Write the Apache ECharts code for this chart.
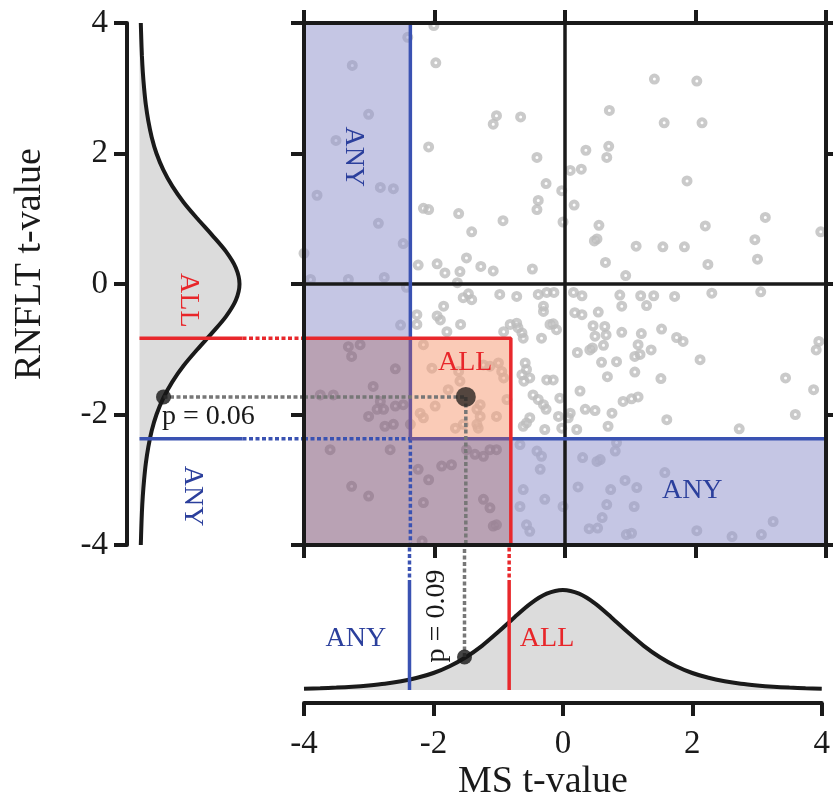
<!DOCTYPE html>
<html><head><meta charset="utf-8">
<script src="https://cdn.jsdelivr.net/npm/echarts@6/dist/echarts.min.js"></script>
<style>html,body{margin:0;padding:0;background:#fff}#c{width:833px;height:799px}</style>
</head><body><div id="c"></div>
<script>
// ---------------- data ----------------
const axisTicks = [-4, -2, 0, 2, 4];
const msT = [
-2.41,-3.26,-3.01,-3.51,-2.83,-2.63,-3.80,-2.86,-2.48,-4.00,-3.90,-3.32,-2.77,-2.43,-2.52,
-2.01,-1.98,-1.05,-1.10,-0.68,-2.09,-0.43,-0.29,-0.05,-2.17,-2.09,-1.63,-0.41,-0.43,-0.95,-0.03,-1.43,-2.25,-1.96,-1.84,-1.61,-1.51,-1.29,-1.10,-0.50,-1.65,
1.37,2.02,0.68,1.52,2.10,0.32,0.67,0.64,0.08,0.25,1.87,0.14,0.52,0.49,0.45,1.09,1.50,1.83,2.15,0.62,0.93,2.19,2.91,3.07,2.95,3.92,
-0.41,-0.28,-0.17,0.13,0.26,0.84,1.16,1.36,1.68,2.25,3.00,-0.33,0.87,1.25,-0.33,0.15,0.26,0.51,-0.18,-0.13,-0.23,0.43,0.61,0.46,0.63,0.87,1.17,1.48,1.71,1.81,
-0.36,-0.66,-0.64,0.42,0.38,0.59,0.19,1.12,1.07,1.15,1.32,0.56,0.79,-0.61,-0.59,-0.66,-0.63,-0.54,1.07,0.65,-0.28,-0.18,1.47,2.07,3.89,3.85,3.38,3.81,
0.23,-0.49,-0.41,-0.33,-0.29,-0.08,-0.10,0.89,1.02,1.12,0.31,0.46,0.72,-0.54,-0.59,-0.64,0.08,0.05,-0.31,-0.05,0.18,0.66,1.56,3.53,2.67,
0.79,0.77,0.27,0.49,0.54,1.53,0.92,1.10,0.20,0.70,0.64,1.06,-0.03,0.57,0.37,0.50,0.94,1.02,2.02,2.56,3.01,3.19,
-0.69,-0.43,-0.36,-0.38,-0.64,-0.31,-0.59,-0.54,-0.69,
-2.27,-2.27,-1.91,-1.96,-1.60,-1.81,-0.84,-0.74,-1.86,-1.56,-1.48,-1.43,-1.00,-0.74,-0.94,-0.72,-2.17,-2.60,-2.04,-1.63,-1.61,-1.25,-1.15,-0.97,-0.94,-1.02,-1.79,
-2.83,-2.88,-2.78,-2.60,-2.48,-2.22,-2.17,-1.99,-1.30,-1.35,-1.05,-0.89,-2.37,-2.63,-2.76,-1.68,-1.56,-1.35,-1.33,-3.32,-3.27,-3.14,-2.94,-3.75,-3.55,-3.01,
-3.60,-2.68,-3.27,-3.01,-2.25,-2.09,-1.89,-1.74,-1.51,-1.38,-1.25,-1.15,-1.05,-1.25,-1.15,-2.17,-1.10,-1.05,-2.19,-1.30
];
const rnfltT = [
3.78,3.35,2.60,2.20,1.48,1.46,1.36,0.93,0.62,0.47,0.07,0.07,0.10,-0.05,-0.63,
3.96,3.39,2.58,2.45,2.56,2.10,1.94,1.54,1.43,1.16,1.14,1.08,1.28,1.14,0.97,0.95,0.80,0.29,0.31,0.17,0.19,0.40,0.27,0.20,0.23,0.02,
3.14,3.11,2.66,2.47,2.47,2.05,2.11,1.94,1.74,1.76,1.58,1.21,0.90,0.69,0.66,0.58,0.57,0.57,0.89,0.33,0.13,0.30,0.68,1.02,0.38,0.80,
-0.16,-0.13,-0.13,-0.13,-0.18,-0.17,-0.18,-0.18,-0.19,-0.14,-0.12,-0.34,-0.34,-0.33,-0.42,-0.44,-0.47,-0.43,-0.61,-0.70,-0.62,-0.64,-0.65,-0.80,-0.78,-0.74,-0.76,-0.69,-0.82,-0.88,
-0.83,-0.75,-0.83,-0.98,-1.01,-0.94,-1.05,-0.93,-1.11,-1.08,-1.01,-1.20,-1.19,-1.21,-1.31,-1.39,-1.49,-1.44,-1.35,-1.42,-1.47,-1.47,-1.45,-1.16,-0.88,-1.01,-1.44,-1.62,
-1.64,-1.70,-1.77,-1.85,-1.92,-1.75,-2.03,-1.80,-1.76,-1.73,-1.92,-1.94,-1.98,-2.05,-2.13,-2.18,-1.98,-2.05,-2.23,-2.21,-2.23,-2.18,-2.08,-2.00,-2.22,
-2.43,-2.56,-2.66,-2.72,-2.69,-2.89,-3.01,-3.12,-3.11,-3.15,-3.38,-3.41,-3.41,-3.58,-3.75,-3.74,-3.84,-3.82,-3.78,-3.87,-3.84,-3.64,
-2.46,-2.56,-2.64,-2.84,-3.15,-3.30,-3.69,-3.79,-3.41,
-0.62,-0.47,-0.55,-0.49,-0.62,-0.73,-0.62,-0.60,-0.34,-0.21,-0.15,-0.24,-0.16,-0.19,-0.73,-0.67,-0.93,-1.30,-1.29,-1.34,-1.49,-1.24,-1.26,-1.34,-1.44,-1.21,-1.62,
-1.80,-1.92,-1.92,-1.87,-1.85,-1.98,-2.05,-1.87,-1.85,-1.92,-2.03,-1.77,-2.15,-2.15,-2.18,-2.21,-2.15,-2.15,-2.21,-0.96,-1.11,-0.93,-1.57,-1.70,-1.70,-2.03,
-2.54,-2.54,-3.10,-3.25,-2.84,-3.00,-2.79,-2.77,-2.54,-2.61,-2.64,-2.54,-2.54,-3.30,-3.43,-3.35,-3.71,-3.69,-3.94,-2.03
];
// density curve (relative height)
const densityT = [-4,-3.75,-3.5,-3.25,-3,-2.75,-2.5,-2.25,-2,-1.75,-1.5,-1.25,-1,-0.75,-0.5,-0.25,0,
                  0.25,0.5,0.75,1,1.25,1.5,1.75,2,2.25,2.5,2.75,3,3.25,3.5,3.75,4];
const densityVals = [0.013,0.018,0.024,0.033,0.046,0.063,0.088,0.122,0.17,0.238,0.328,0.442,0.58,0.726,0.864,0.963,1.0,
                     0.963,0.864,0.726,0.58,0.442,0.328,0.238,0.17,0.122,0.088,0.063,0.046,0.033,0.024,0.018,0.013];
const anyThreshold = -2.37;
const allThreshold = -0.83;
const obsMS = -1.52;
const obsRNFLT = -1.73;
const densAtObsRNFLT = 0.24;
const densAtObsMS = 0.33;
const pRNFLT = '0.06';
const pMS = '0.09';

// ---------------- styling / layout ----------------
const FONT = "'Liberation Serif', 'Times New Roman', serif";
const INK = '#1a1a1a';
const BLUE = '#3a52b2', RED = '#e8282c', PURPLE = '#6d5698', GRAY = '#777777';
const BLUE_T = '#2b3f9c', RED_T = '#e8262a';
const LEFT_SOLID_END = 1.03, LEFT_EDGE = 1.645, BOT_SOLID_END = 1.06, BOT_EDGE = 1.45;

const chart = echarts.init(document.getElementById('c'), null, {renderer: 'canvas'});

function frameAxis(extra) {
  return Object.assign({
    type: 'value', min: -4, max: 4, interval: 2, z: 10,
    axisLine: {show: true, onZero: false, lineStyle: {color: INK, width: 4}},
    axisTick: {show: true, length: 13, lineStyle: {color: INK, width: 4}},
    axisLabel: {show: false}, splitLine: {show: false}
  }, extra);
}

function seg(ax, pts, color, dotted, width) {
  return {
    type: 'line', xAxisIndex: ax, yAxisIndex: ax, data: pts, symbol: 'none',
    silent: true, clip: false, z: 5, animation: false,
    lineStyle: {color: color, width: width || 3.5, type: dotted ? [4, 2.5] : 'solid', cap: 'butt'}
  };
}

const A = anyThreshold, L = allThreshold;
// shaded regions: [x1, y1, x2, y2, kind]  (0 blue, 1 mauve, 2 peach)
const regions = [
  [-4, L, A, 4, 0],
  [L, -4, 4, A, 0],
  [-4, -4, A, L, 1],
  [A, -4, L, A, 1],
  [A, A, L, L, 2]
];
const regionColors = ['rgba(150,152,206,0.55)', 'rgba(128,86,118,0.55)', 'rgba(246,160,124,0.55)'];

// annotations: [x, y] in the panel's data coordinates
const mainTexts = [
  {pos: [-3.25, 1.95], text: 'ANY', color: BLUE_T, rot: -Math.PI / 2},
  {pos: [-1.53, -1.20], text: 'ALL', color: RED_T, rot: 0},
  {pos: [1.95, -3.17], text: 'ANY', color: BLUE_T, rot: 0}
];
const leftTexts = [
  {pos: [0.485, -0.25], text: 'ALL', color: RED_T, rot: -Math.PI / 2, align: 'center'},
  {pos: [0.525, -3.25], text: 'ANY', color: BLUE_T, rot: -Math.PI / 2, align: 'center'},
  {pos: [0.225, -2.04], text: 'p = ' + pRNFLT, color: INK, rot: 0, align: 'left'}
];
const bottomTexts = [
  {pos: [-3.20, 0.51], text: 'ANY', color: BLUE_T, rot: 0, align: 'center'},
  {pos: [-0.245, 0.51], text: 'ALL', color: RED_T, rot: 0, align: 'center'},
  {pos: [-1.95, 0.74], text: 'p = ' + pMS, color: INK, rot: Math.PI / 2, align: 'center'}
];
function textSeries(ax, list) {
  return {
    type: 'custom', xAxisIndex: ax, yAxisIndex: ax, z: 6, silent: true, animation: false,
    data: list.map(function (t, i) { return [t.pos[0], t.pos[1], i]; }),
    renderItem: function (params, api) {
      const t = list[api.value(2)];
      const p = api.coord([api.value(0), api.value(1)]);
      return {type: 'text', x: p[0], y: p[1], rotation: t.rot,
        style: {text: t.text, fill: t.color, fontSize: 28, fontFamily: FONT,
                align: t.align || 'center', verticalAlign: 'middle'}};
    }
  };
}

const series = [];
// left density fill
series.push({
  type: 'custom', xAxisIndex: 2, yAxisIndex: 2, z: 1, silent: true, animation: false, data: [[0, 0]],
  renderItem: function (params, api) {
    const pts = densityT.map(function (t, i) { return api.coord([densityVals[i], t]); });
    pts.push(api.coord([0, densityT[densityT.length - 1]]));
    pts.push(api.coord([0, densityT[0]]));
    return {type: 'polygon', shape: {points: pts}, style: {fill: '#dcdcdc'}};
  }
});
// bottom density fill
series.push({
  type: 'custom', xAxisIndex: 3, yAxisIndex: 3, z: 1, silent: true, animation: false, data: [[0, 0]],
  renderItem: function (params, api) {
    const pts = densityT.map(function (t, i) { return api.coord([t, densityVals[i]]); });
    pts.push(api.coord([densityT[densityT.length - 1], 0]));
    pts.push(api.coord([densityT[0], 0]));
    return {type: 'polygon', shape: {points: pts}, style: {fill: '#dcdcdc'}};
  }
});
// scatter
series.push({
  type: 'scatter', xAxisIndex: 0, yAxisIndex: 0, z: 2, clip: false, silent: true, animation: false,
  symbol: 'circle', symbolSize: 7,
  itemStyle: {color: 'rgba(255,255,255,0)', borderColor: '#bdbdbd', borderWidth: 4},
  data: msT.map(function (x, i) { return [x, rnfltT[i]]; })
});
// shaded regions
series.push({
  type: 'custom', xAxisIndex: 0, yAxisIndex: 0, z: 3, silent: true, animation: false,
  data: regions,
  renderItem: function (params, api) {
    const p1 = api.coord([api.value(0), api.value(1)]);
    const p2 = api.coord([api.value(2), api.value(3)]);
    return {type: 'rect',
      shape: {x: Math.min(p1[0], p2[0]), y: Math.min(p1[1], p2[1]),
              width: Math.abs(p2[0] - p1[0]), height: Math.abs(p2[1] - p1[1])},
      style: {fill: regionColors[api.value(4)]}};
  }
});
// density curves
series.push({type: 'line', xAxisIndex: 2, yAxisIndex: 2, z: 4, symbol: 'none', smooth: 0.3, silent: true, animation: false,
  lineStyle: {color: INK, width: 4},
  data: densityT.map(function (t, i) { return [densityVals[i], t]; })});
series.push({type: 'line', xAxisIndex: 3, yAxisIndex: 3, z: 4, symbol: 'none', smooth: 0.3, silent: true, animation: false,
  lineStyle: {color: INK, width: 4},
  data: densityT.map(function (t, i) { return [t, densityVals[i]]; })});
// zero lines
series.push(seg(0, [[0, -4], [0, 4]], INK, false, 3.5));
series.push(seg(0, [[-4, 0], [4, 0]], INK, false, 3.5));
// left panel threshold lines
series.push(seg(2, [[0, L], [LEFT_SOLID_END, L]], RED, false));
series.push(seg(2, [[LEFT_SOLID_END, L], [LEFT_EDGE, L]], RED, true));
series.push(seg(2, [[0, A], [LEFT_SOLID_END, A]], BLUE, false));
series.push(seg(2, [[LEFT_SOLID_END, A], [LEFT_EDGE, A]], BLUE, true));
series.push(seg(2, [[densAtObsRNFLT, obsRNFLT], [LEFT_EDGE, obsRNFLT]], GRAY, true));
// main panel threshold lines
series.push(seg(0, [[A, 4], [A, L]], BLUE, false));
series.push(seg(0, [[A, L], [A, A]], PURPLE, false));
series.push(seg(0, [[A, A], [A, -4]], BLUE, true));
series.push(seg(0, [[-4, A], [A, A]], BLUE, true));
series.push(seg(0, [[A, A], [L, A]], PURPLE, false));
series.push(seg(0, [[L, A], [4, A]], BLUE, false));
series.push(seg(0, [[-4, L], [L, L], [L, -4]], RED, false));
series.push(seg(0, [[-4, obsRNFLT], [obsMS, obsRNFLT]], GRAY, true));
series.push(seg(0, [[obsMS, obsRNFLT], [obsMS, -4]], GRAY, true));
// bottom panel threshold lines
series.push(seg(3, [[A, 0], [A, BOT_SOLID_END]], BLUE, false));
series.push(seg(3, [[A, BOT_SOLID_END], [A, BOT_EDGE]], BLUE, true));
series.push(seg(3, [[L, 0], [L, BOT_SOLID_END]], RED, false));
series.push(seg(3, [[L, BOT_SOLID_END], [L, BOT_EDGE]], RED, true));
series.push(seg(3, [[obsMS, densAtObsMS], [obsMS, BOT_EDGE]], GRAY, true));
// texts
series.push(textSeries(0, mainTexts));
series.push(textSeries(2, leftTexts));
series.push(textSeries(3, bottomTexts));
// dots
series.push({type: 'scatter', xAxisIndex: 0, yAxisIndex: 0, z: 7, silent: true, animation: false, clip: false,
  symbolSize: 20, itemStyle: {color: '#2a2421'}, data: [[obsMS, obsRNFLT]]});
series.push({type: 'scatter', xAxisIndex: 2, yAxisIndex: 2, z: 7, silent: true, animation: false, clip: false,
  symbolSize: 15, itemStyle: {color: '#151515'}, data: [[densAtObsRNFLT, obsRNFLT]]});
series.push({type: 'scatter', xAxisIndex: 3, yAxisIndex: 3, z: 7, silent: true, animation: false, clip: false,
  symbolSize: 15, itemStyle: {color: '#151515'}, data: [[obsMS, densAtObsMS]]});

const tickLabel = {show: true, fontSize: 33, fontFamily: FONT, color: INK,
  customValues: axisTicks};

chart.setOption({
  animation: false,
  backgroundColor: '#ffffff',
  grid: [
    {left: 304, top: 23, width: 522, height: 522},
    {left: 127, top: 23, width: 177, height: 522},
    {left: 304, top: 545, width: 522, height: 158}
  ],
  xAxis: [
    frameAxis({gridIndex: 0, position: 'bottom'}),
    frameAxis({gridIndex: 0, position: 'top'}),
    {type: 'value', gridIndex: 1, min: -0.125, max: LEFT_EDGE, show: false},
    frameAxis({gridIndex: 2, position: 'bottom',
      axisLabel: Object.assign({margin: 25}, tickLabel)})
  ],
  yAxis: [
    frameAxis({gridIndex: 0, position: 'left'}),
    frameAxis({gridIndex: 0, position: 'right'}),
    frameAxis({gridIndex: 1, position: 'left',
      axisLabel: Object.assign({margin: 19}, tickLabel)}),
    {type: 'value', gridIndex: 2, min: -0.13, max: BOT_EDGE, show: false}
  ],
  graphic: [
    {type: 'text', x: 30, y: 264, rotation: Math.PI / 2,
     style: {text: 'RNFLT t-value', fontSize: 38, fontFamily: FONT, fill: INK, align: 'center', verticalAlign: 'middle'}},
    {type: 'text', x: 543, y: 782,
     style: {text: 'MS t-value', fontSize: 38, fontFamily: FONT, fill: INK, align: 'center', verticalAlign: 'middle'}}
  ],
  series: series
});
</script>
</body></html>
